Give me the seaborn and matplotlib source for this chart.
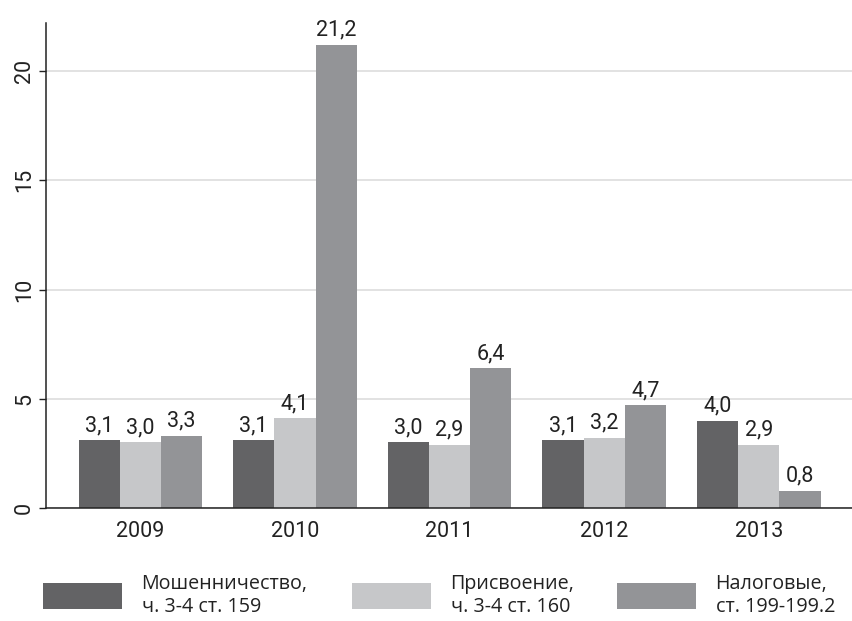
import matplotlib
matplotlib.use("Agg")
import matplotlib.pyplot as plt
import seaborn as sns
import pandas as pd

# data
YEARS = ["2009", "2010", "2011", "2012", "2013"]
SERIES = ["Мошенничество,\nч. 3-4 ст. 159",
          "Присвоение,\nч. 3-4 ст. 160",
          "Налоговые,\nст. 199-199.2"]
fraud = [3.1, 3.1, 3.0, 3.1, 4.0]
embezzlement = [3.0, 4.1, 2.9, 3.2, 2.9]
tax = [3.3, 21.2, 6.4, 4.7, 0.8]
COLORS = ["#636365", "#c6c7c9", "#939497"]

rows = []
for name, vals in zip(SERIES, [fraud, embezzlement, tax]):
    for y, v in zip(YEARS, vals):
        rows.append({"year": y, "series": name, "value": v})
df = pd.DataFrame(rows)

sns.set_style("white")
plt.rcParams['font.family'] = ['Roboto', 'DejaVu Sans']
FS = 15.5
W, H = 853, 621

fig = plt.figure(figsize=(W / 100, H / 100), dpi=100)
ax = fig.add_axes([0.054, 0.182, 0.946, 0.781])

sns.barplot(data=df, x="year", y="value", hue="series", palette=COLORS,
            width=0.8, saturation=1, linewidth=0, ax=ax, legend=True)

for cont in ax.containers:
    ax.bar_label(cont, labels=[f"{v:.1f}".replace(".", ",") for v in cont.datavalues],
                 padding=3, fontsize=FS, color="#222222")

ax.set_xlim(-0.61, 4.61)
ax.set_ylim(0, 22.2)
ax.set_yticks([0, 5, 10, 15, 20])
ax.set_yticklabels(["0", "5", "10", "15", "20"], rotation=90, va="center")
ax.yaxis.grid(True, color="#e2e2e2", linewidth=1.4)
ax.set_axisbelow(True)
ax.set_xlabel("")
ax.set_ylabel("")
ax.tick_params(axis="y", left=True, length=5, width=1, color="#222222",
               labelsize=FS, pad=3, labelcolor="#222222")
ax.tick_params(axis="x", bottom=False, labelsize=FS, pad=6, labelcolor="#222222")
for s in ["top", "right"]:
    ax.spines[s].set_visible(False)
for s in ["left", "bottom"]:
    ax.spines[s].set_color("#222222")
    ax.spines[s].set_linewidth(1.1)

# one legend per series so each patch sits where it does in the original
handles, labels = ax.get_legend_handles_labels()
ax.get_legend().remove()
LEG_FS = 14.2
patch_left = [43, 352, 617]
for h, lab, x0 in zip(handles, labels, patch_left):
    fig.legend([h], [lab], loc="center left", bbox_to_anchor=(x0 / W, 1 - 595 / H),
               frameon=False, prop={"family": ["Open Sans", "DejaVu Sans"], "size": LEG_FS},
               handlelength=4.0, handleheight=1.6, handletextpad=1.0,
               borderpad=0, borderaxespad=0, labelcolor="#222222")

fig.savefig("out.png", dpi=100)
